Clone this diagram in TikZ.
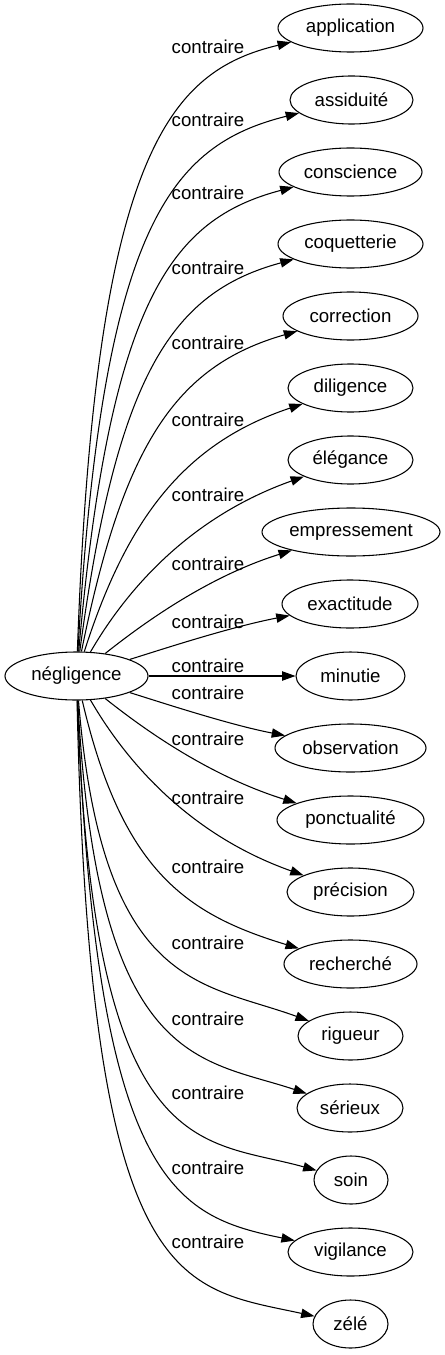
\documentclass[tikz,border=0pt]{standalone}
\usepackage{fontspec}
\setmainfont{Liberation Sans}
\usetikzlibrary{shapes.geometric,arrows.meta}
\begin{document}
\begin{tikzpicture}[x=0.75pt,y=-0.75pt,
  font=\fontsize{14pt}{16pt}\selectfont,
  term/.style={ellipse, draw, line width=0.8pt, inner sep=0pt, minimum height=36pt},
  rel/.style={-{Triangle[length=10pt,width=7pt]}, line width=0.8pt},
  lab/.style={inner sep=0pt}]
\useasboundingbox (0,0) rectangle (444,1355);
% root
\node[term, minimum width=107.25pt] (root) at (76.5,676) {négligence};
% targets
\node[term, minimum width=108.75pt] (t1)  at (350.5,28)   {application};
\node[term, minimum width=92.25pt]  (t2)  at (351.5,100)  {assiduité};
\node[term, minimum width=107.25pt] (t3)  at (350.5,172)  {conscience};
\node[term, minimum width=108.75pt] (t4)  at (350.5,244)  {coquetterie};
\node[term, minimum width=101.25pt] (t5)  at (350.5,316)  {correction};
\node[term, minimum width=93.75pt]  (t6)  at (350.5,388)  {diligence};
\node[term, minimum width=93.75pt]  (t7)  at (350.5,460)  {élégance};
\node[term, minimum width=133.5pt]  (t8)  at (351,532)    {empressement};
\node[term, minimum width=102pt]    (t9)  at (350,604)    {exactitude};
\node[term, minimum width=81.75pt]  (t10) at (350.5,676)  {minutie};
\node[term, minimum width=113.25pt] (t11) at (350.5,748)  {observation};
\node[term, minimum width=110.25pt] (t12) at (350.5,820)  {ponctualité};
\node[term, minimum width=95.25pt]  (t13) at (350.5,892)  {précision};
\node[term, minimum width=99.75pt]  (t14) at (350.5,964)  {recherché};
\node[term, minimum width=78.75pt]  (t15) at (350.5,1036) {rigueur};
\node[term, minimum width=79.5pt]   (t16) at (350,1108)   {sérieux};
\node[term, minimum width=55.5pt]   (t17) at (351,1180)   {soin};
\node[term, minimum width=93.75pt]  (t18) at (350.5,1252) {vigilance};
\node[term, minimum width=56.25pt]  (t19) at (350.5,1324) {zélé};
% labels
\node[lab] (l1)  at (208,46.7)   {contraire};
\node[lab] (l2)  at (208,120)    {contraire};
\node[lab] (l3)  at (208,193.3)  {contraire};
\node[lab] (l4)  at (208,268.3)  {contraire};
\node[lab] (l5)  at (208,343.3)  {contraire};
\node[lab] (l6)  at (208,420)    {contraire};
\node[lab] (l7)  at (208,495)    {contraire};
\node[lab] (l8)  at (208,564)    {contraire};
\node[lab] (l9)  at (208,621.7)  {contraire};
\node[lab] (l10) at (208,666)    {contraire};
\node[lab] (l11) at (208,693.3)  {contraire};
\node[lab] (l12) at (208,739.3)  {contraire};
\node[lab] (l13) at (208,797.7)  {contraire};
\node[lab] (l14) at (208,867.3)  {contraire};
\node[lab] (l15) at (208,943.3)  {contraire};
\node[lab] (l16) at (208,1019)   {contraire};
\node[lab] (l17) at (208,1093.3) {contraire};
\node[lab] (l18) at (208,1168.3) {contraire};
\node[lab] (l19) at (208,1241.7) {contraire};
% edges
\draw[rel] (root) .. controls (95,151)  and (170,71)  .. (t1);
\draw[rel] (root) .. controls (102,225) and (171,145) .. (t2);
\draw[rel] (root) .. controls (110,299) and (172,219) .. (t3);
\draw[rel] (root) .. controls (117,372) and (173,292) .. (t4);
\draw[rel] (root) .. controls (123,446) and (175,366) .. (t5);
\draw[rel] (root) .. controls (127,518) and (185,443) .. (t6);
\draw[rel] (root) .. controls (127,589) and (190,517) .. (t7);
\draw[rel] (root) .. controls (130,634) and (200,579) .. (t8);
\draw[rel] (root) .. controls (160,650) and (230,627) .. (t9);
\draw[rel] (root) -- (t10);
\draw[rel] (root) .. controls (160,702)  and (230,725)  .. (t11);
\draw[rel] (root) .. controls (130,718)  and (200,773)  .. (t12);
\draw[rel] (root) .. controls (127,763)  and (190,835)  .. (t13);
\draw[rel] (root) .. controls (122,870)  and (185,914)  .. (t14);
\draw[rel] (root) .. controls (102,990)  and (202,982)  .. (t15);
\draw[rel] (root) .. controls (97,1068)  and (200,1058) .. (t16);
\draw[rel] (root) .. controls (93,1165)  and (200,1138) .. (t17);
\draw[rel] (root) .. controls (96,1185)  and (175,1216) .. (t18);
\draw[rel] (root) .. controls (90,1295)  and (180,1287) .. (t19);
\end{tikzpicture}
\end{document}
